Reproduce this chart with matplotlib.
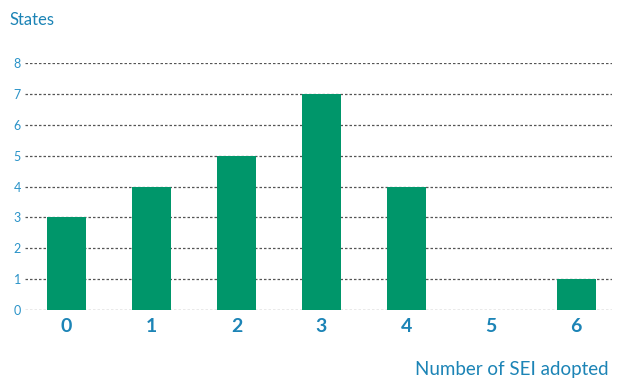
import matplotlib
matplotlib.use("Agg")
import matplotlib.pyplot as plt

plt.rcParams['font.family'] = ['Lato', 'DejaVu Sans']

# states by number of SEI adopted
sei_adopted = [0, 1, 2, 3, 4, 5, 6]
states = [3, 4, 5, 7, 4, 0, 1]
y_ticks = [0, 1, 2, 3, 4, 5, 6, 7, 8]

green = '#00966a'
blue = '#1c84b6'

fig = plt.figure(figsize=(6.18, 3.78), dpi=100)
ax = fig.add_axes([0.0405, 0.180, 0.9495, 0.653])

ax.bar(sei_adopted, states, width=0.46, color=green, zorder=3)

ax.set_xlim(-0.49, 6.42)
ax.set_ylim(0, 8)
ax.set_yticks(y_ticks)
ax.set_xticks(sei_adopted)
ax.set_xticklabels([str(v) for v in sei_adopted], fontsize=14, fontweight='bold', color=blue)
ax.set_yticklabels([str(v) for v in y_ticks], fontsize=9, color='#2a93c8')
ax.tick_params(axis='both', length=0)
ax.tick_params(axis='y', pad=3)
ax.tick_params(axis='x', pad=6)

ax.grid(axis='y', color='#555555', linestyle=(0, (2, 1.6)), linewidth=0.9, zorder=0)
ax.set_axisbelow(True)
for s in ax.spines.values():
    s.set_visible(False)

fig.text(10 / 618, 1 - 20 / 378, 'States', fontsize=12, color=blue, va='center', ha='left')
fig.text(609 / 618, 1 - 369 / 378, 'Number of SEI adopted', fontsize=13.5, color=blue, va='center', ha='right')

fig.savefig('out.png', dpi=100)
